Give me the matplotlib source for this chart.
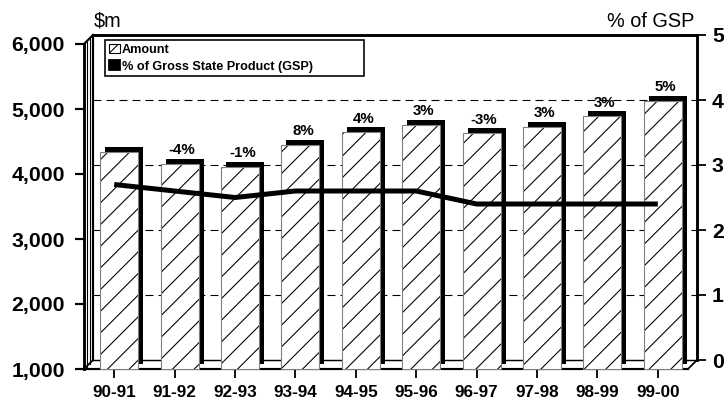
import matplotlib

matplotlib.use("Agg")

import matplotlib.pyplot as plt
import matplotlib.transforms as mtransforms
import numpy as np
from matplotlib.lines import Line2D
from matplotlib.patches import Patch


years = ["90-91", "91-92", "92-93", "93-94", "94-95", "95-96", "96-97", "97-98", "98-99", "99-00"]
amount = [4340, 4160, 4110, 4450, 4640, 4760, 4630, 4730, 4890, 5130]
growth = ["", "-4%", "-1%", "8%", "4%", "3%", "-3%", "3%", "3%", "5%"]
pct_gsp = [2.7, 2.6, 2.5, 2.6, 2.6, 2.6, 2.4, 2.4, 2.4, 2.4]

amount_ticks = [1000, 2000, 3000, 4000, 5000, 6000]
pct_ticks = [0, 1, 2, 3, 4, 5]

W, H, DPI = 724, 400, 130
PT = 72 / DPI  # points per pixel

# front plane and back wall of the fake 3-D frame, in pixels (y from top)
FRONT = (84, 44, 688, 369)
DEPTH = 9
BACK = (FRONT[0] + DEPTH, FRONT[1] - DEPTH, FRONT[2] + DEPTH, FRONT[3] - DEPTH)

plt.rcParams["font.family"] = ["Liberation Sans", "DejaVu Sans"]
plt.rcParams["hatch.linewidth"] = 0.6
plt.rcParams["lines.scale_dashes"] = False


def rect(box):
    x0, y0, x1, y1 = box
    return [x0 / W, 1 - y1 / H, (x1 - x0) / W, (y1 - y0) / H]


def frame_line(xs, ys, lw=1.0, color="black"):
    fig.add_artist(Line2D([v / W for v in xs], [1 - v / H for v in ys],
                          transform=fig.transFigure, color=color, lw=lw))


def shifted(axis, dx, dy):
    return axis.transData + mtransforms.ScaledTranslation(dx / DPI, dy / DPI, fig.dpi_scale_trans)


fig = plt.figure(figsize=(W / DPI, H / DPI), dpi=DPI)

n = len(years)
x = np.arange(n)
xlim = (-0.5, n - 0.5)
# back-wall axes use the same category positions as the front plane
shift = DEPTH / ((FRONT[2] - FRONT[0]) / n)
back_xlim = (xlim[0] + shift, xlim[1] + shift)

# back wall: dashed gridlines
back = fig.add_axes(rect(BACK))
back.set_xlim(*back_xlim)
back.set_ylim(pct_ticks[0], pct_ticks[-1])
back.set_yticks(pct_ticks[1:-1])
back.set_xticks([])
back.tick_params(axis="y", length=0, labelleft=False)
back.grid(axis="y", color="black", lw=0.6, linestyle=(0, (4.4, 2.8)))
back.spines["right"].set_visible(False)
back.spines["top"].set_linewidth(1.6)
back.spines["left"].set_linewidth(1.2)
back.spines["bottom"].set_linewidth(0.8)

# front plane: bars and the $m axis
ax = fig.add_axes(rect(FRONT))
ax.set_facecolor("none")
ax.set_xlim(*xlim)
ax.set_ylim(amount_ticks[0], amount_ticks[-1])

heights = [v - amount_ticks[0] for v in amount]
ax.bar(x, heights, bottom=amount_ticks[0], width=0.63, color="black",
       transform=shifted(ax, 10, 5), clip_on=False, zorder=2)
ax.bar(x, heights, bottom=amount_ticks[0], width=0.63, facecolor="white",
       edgecolor="black", linewidth=0, hatch="//", transform=shifted(ax, 5, 0),
       clip_on=False, zorder=3)
ax.bar(x, heights, bottom=amount_ticks[0], width=0.63, facecolor="none",
       edgecolor="#7f7f7f", linewidth=0.6, transform=shifted(ax, 5, 0),
       clip_on=False, zorder=4)

for xi, val, lbl in zip(x, amount, growth):
    if lbl:
        ax.annotate(lbl, (xi, val), xytext=(7.5 * PT, 6.5 * PT), textcoords="offset points",
                    ha="center", va="bottom", fontsize=8.3, fontweight="bold")

ax.set_yticks(amount_ticks, [f"{v:,}" for v in amount_ticks])
ax.set_xticks(x, years)
ax.tick_params(axis="y", length=9 * PT, width=1.2, pad=10 * PT, labelsize=11.8, color="black")
ax.tick_params(axis="x", length=9 * PT, width=1.0, pad=7 * PT, labelsize=9.5)
for lab in ax.get_xticklabels() + ax.get_yticklabels():
    lab.set_fontweight("bold")
ax.spines["top"].set_visible(False)
ax.spines["right"].set_visible(False)
ax.spines["left"].set_linewidth(1.6)
ax.spines["bottom"].set_linewidth(1.2)

# line series on the back-wall scale (% of GSP)
over = fig.add_axes(rect(BACK))
over.set_facecolor("none")
over.set_xlim(*back_xlim)
over.set_ylim(pct_ticks[0], pct_ticks[-1])
over.plot(x, pct_gsp, color="black", lw=5 * PT, solid_joinstyle="round",
          solid_capstyle="butt", clip_on=False)
over.set_xticks([])
over.yaxis.tick_right()
over.set_yticks(pct_ticks)
over.tick_params(axis="y", length=9 * PT, width=1.0, pad=6 * PT, labelsize=11.8)
for lab in over.get_yticklabels():
    lab.set_fontweight("bold")
for side in ["left", "top", "bottom"]:
    over.spines[side].set_visible(False)
over.spines["right"].set_linewidth(1.6)

# side walls and floor edges of the 3-D frame
frame_line([FRONT[0], BACK[0]], [FRONT[1], BACK[1]], lw=1.2)
frame_line([FRONT[0], BACK[0]], [FRONT[3], BACK[3]], lw=1.0)
frame_line([FRONT[2], BACK[2]], [FRONT[3], BACK[3]], lw=1.0)
for k in [2.5, 5.5]:
    frame_line([FRONT[0] + k, FRONT[0] + k], [FRONT[1] - k, FRONT[3] - k], lw=0.6)

fig.text(94 / W, 1 - 27 / H, "$m", fontsize=11, va="baseline", ha="left")
fig.text(694 / W, 1 - 27 / H, "% of GSP", fontsize=11, va="baseline", ha="right")

handles = [Patch(facecolor="white", edgecolor="black", hatch="////", linewidth=0.6),
           Patch(facecolor="black", edgecolor="black")]
leg = fig.legend(handles, ["Amount", "% of Gross State Product (GSP)"],
                 loc="upper left", bbox_to_anchor=(105 / W, 1 - 75 / H, 259 / W, 35 / H),
                 mode="expand", fancybox=False, framealpha=1, edgecolor="black",
                 prop={"size": 7.0, "weight": "bold"}, borderpad=0.3, labelspacing=0.35,
                 handlelength=0.9, handleheight=0.8, handletextpad=0.15, borderaxespad=0)
leg.get_frame().set_linewidth(0.9)

fig.savefig("out.png", dpi=DPI)
